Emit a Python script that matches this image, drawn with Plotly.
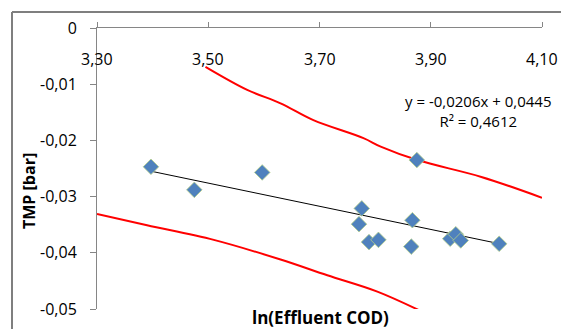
import plotly.graph_objects as go

# Data
cod = [3.397, 3.475, 3.597, 3.776, 3.771, 3.789, 3.806, 3.867, 3.865, 3.875, 3.935, 3.945, 3.954, 4.023]
tmp = [-0.0247, -0.0288, -0.0257, -0.0321, -0.0349, -0.0381, -0.0377, -0.0342, -0.0389, -0.0235, -0.0375, -0.0367, -0.0378, -0.0384]

slope = -0.0206
intercept = 0.0445
trend_label = "y = -0,0206x + 0,0445<br>R² = 0,4612"

upper_x = [3.495, 3.570, 3.630, 3.689, 3.779, 3.810, 3.876, 3.991, 4.100]
upper_y = [-0.0069, -0.0110, -0.0134, -0.0164, -0.0196, -0.0211, -0.0235, -0.0265, -0.0302]
lower_x = [3.300, 3.390, 3.510, 3.630, 3.714, 3.804, 3.885]
lower_y = [-0.0331, -0.0351, -0.0377, -0.0412, -0.0440, -0.0469, -0.0505]

x_ticks = [3.30, 3.50, 3.70, 3.90, 4.10]
x_ticktext = ["3,30", "3,50", "3,70", "3,90", "4,10"]
y_ticks = [0, -0.01, -0.02, -0.03, -0.04, -0.05]
y_ticktext = ["0", "-0,01", "-0,02", "-0,03", "-0,04", "-0,05"]

FONT = "Open Sans"
W, H = 561, 329
FL, FT = 12, 12              # outer chart-area frame corner (px)
aw, ah = W - FL, H - FT      # area inside the margins

def px_x(p):
    return (p - FL) / aw

def px_y(p):
    return (H - p) / ah

fig = go.Figure()

fig.add_trace(go.Scatter(x=upper_x, y=upper_y, mode="lines",
                         line=dict(color="#ff0000", width=2, shape="spline"),
                         hoverinfo="skip", showlegend=False))
fig.add_trace(go.Scatter(x=lower_x, y=lower_y, mode="lines",
                         line=dict(color="#ff0000", width=2, shape="spline"),
                         hoverinfo="skip", showlegend=False))

tx = [min(cod), max(cod)]
ty = [slope * v + intercept for v in tx]
fig.add_trace(go.Scatter(x=tx, y=ty, mode="lines",
                         line=dict(color="#000000", width=1),
                         hoverinfo="skip", showlegend=False))

fig.add_trace(go.Scatter(x=cod, y=tmp, mode="markers",
                         marker=dict(symbol="diamond", size=12, color="#4f81bd",
                                     line=dict(color="#b5cf8a", width=0.8)),
                         showlegend=False))

fig.update_xaxes(range=[3.30, 4.10], side="top", tickvals=x_ticks,
                 domain=[px_x(97), px_x(542)],
                 showticklabels=False, automargin=False,
                 showline=True, linecolor="#868686", linewidth=1,
                 ticks="outside", ticklen=5, tickcolor="#868686",
                 showgrid=False, zeroline=False)
fig.update_yaxes(range=[-0.05, 0], tickvals=y_ticks, ticktext=y_ticktext,
                 domain=[px_y(309), px_y(28)],
                 automargin=False,
                 showline=True, linecolor="#868686", linewidth=1,
                 ticks="outside", ticklen=6, tickcolor="#868686",
                 ticklabelstandoff=10,
                 showgrid=False, zeroline=False,
                 tickfont=dict(family=FONT, size=16, color="#000000"))

# x tick labels sit below the top axis line, inside the plot
for xv, lab in zip(x_ticks, x_ticktext):
    fig.add_annotation(x=xv, y=px_y(59), xref="x", yref="paper", text=lab,
                       showarrow=False, xanchor="center", yanchor="middle",
                       font=dict(family=FONT, size=16, color="#000000"))

fig.add_annotation(x=px_x(29), y=px_y(191), xref="paper", yref="paper",
                   text="<b>TMP [bar]</b>", textangle=-90, showarrow=False,
                   font=dict(family=FONT, size=16, color="#000000"),
                   xanchor="center", yanchor="middle")
fig.add_annotation(x=px_x(320), y=px_y(317), xref="paper", yref="paper",
                   text="<b>ln(Effluent COD)</b>", showarrow=False,
                   font=dict(family=FONT, size=17, color="#000000"),
                   xanchor="center", yanchor="middle")
fig.add_annotation(x=px_x(478), y=px_y(111), xref="paper", yref="paper",
                   text=trend_label, showarrow=False, align="center",
                   font=dict(family=FONT, size=15, color="#000000"),
                   xanchor="center", yanchor="middle")

# outer chart-area frame: top and left edges of the area inside the margins
fig.add_shape(type="line", xref="paper", yref="paper", x0=0, x1=1, y0=1, y1=1,
              line=dict(color="#7f7f7f", width=2), layer="above")
fig.add_shape(type="line", xref="paper", yref="paper", x0=0, x1=0, y0=0, y1=1,
              line=dict(color="#7f7f7f", width=2), layer="above")

fig.update_layout(width=W, height=H, margin=dict(l=FL, r=0, t=FT, b=0),
                  plot_bgcolor="white", paper_bgcolor="white")

fig.write_html("out.html", config={"displayModeBar": False},
               post_script="document.body.style.margin='0';document.body.style.padding='0';")
